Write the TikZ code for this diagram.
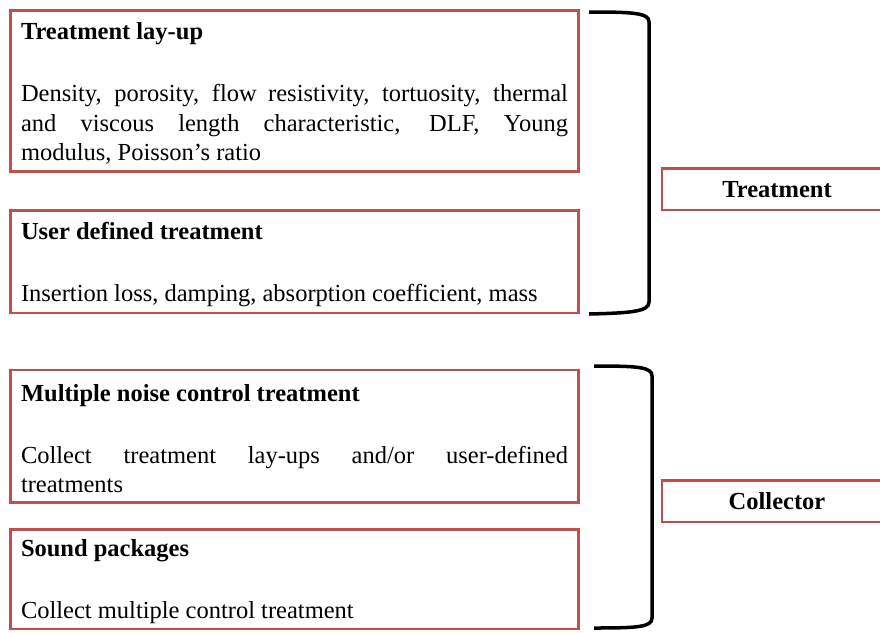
\documentclass[tikz,border=0pt]{standalone}
\usepackage{fontspec}
\setmainfont{Liberation Serif}
\usetikzlibrary{positioning}
\definecolor{boxred}{RGB}{192,80,77}

\begin{document}
\begin{tikzpicture}[x=1pt,y=-1pt,
  infobox/.style={rectangle,draw=boxred,line width=2.2pt,outer sep=0pt,inner xsep=10.5pt,inner ysep=0pt,text width=547pt,align=justify,anchor=north west,font=\fontsize{24.5}{29.5}\selectfont,execute at begin node={\rule{0pt}{22pt}}},
  tagbox/.style={rectangle,draw=boxred,line width=2.2pt,outer sep=0pt,minimum width=230pt,minimum height=41.5pt,anchor=north west,font=\fontsize{24.5}{29.5}\selectfont\bfseries},
  bracket/.style={draw=black,line width=3.5pt}]
\useasboundingbox (0,0) rectangle (880,632);

\node[infobox,minimum height=161pt] (layup) at (10.5,10.5) {\textbf{Treatment lay-up}\\[32.5pt]Density, porosity, flow resistivity, tortuosity, thermal\linebreak and viscous length characteristic, DLF, Young\linebreak modulus, Poisson's ratio};
\node[infobox,minimum height=102.5pt,below=39pt of layup] (userdef) {\textbf{User defined treatment}\\[32.5pt]Insertion loss, damping, absorption coefficient, mass};

\node[infobox,minimum height=132.5pt] (multi) at (10.5,370) {\textbf{Multiple noise control treatment}\\[32.5pt]Collect treatment lay-ups and/or user-defined\linebreak treatments};
\node[infobox,minimum height=99.5pt,below=27pt of multi] (sound) {\textbf{Sound packages}\\[32.5pt]Collect multiple control treatment};

\node[tagbox] (treat) at (662,168.5) {Treatment};
\node[tagbox] (coll) at (662,480.5) {Collector};

\draw[bracket] (589,12) .. controls (634,12) and (649,13) .. (649,22) -- (649,302) .. controls (649,311) and (634,313) .. (589,314);
\draw[bracket] (594,366) .. controls (638,366) and (652,367) .. (652,376) -- (652,618) .. controls (652,627) and (638,628) .. (594,628);
\end{tikzpicture}
\end{document}
